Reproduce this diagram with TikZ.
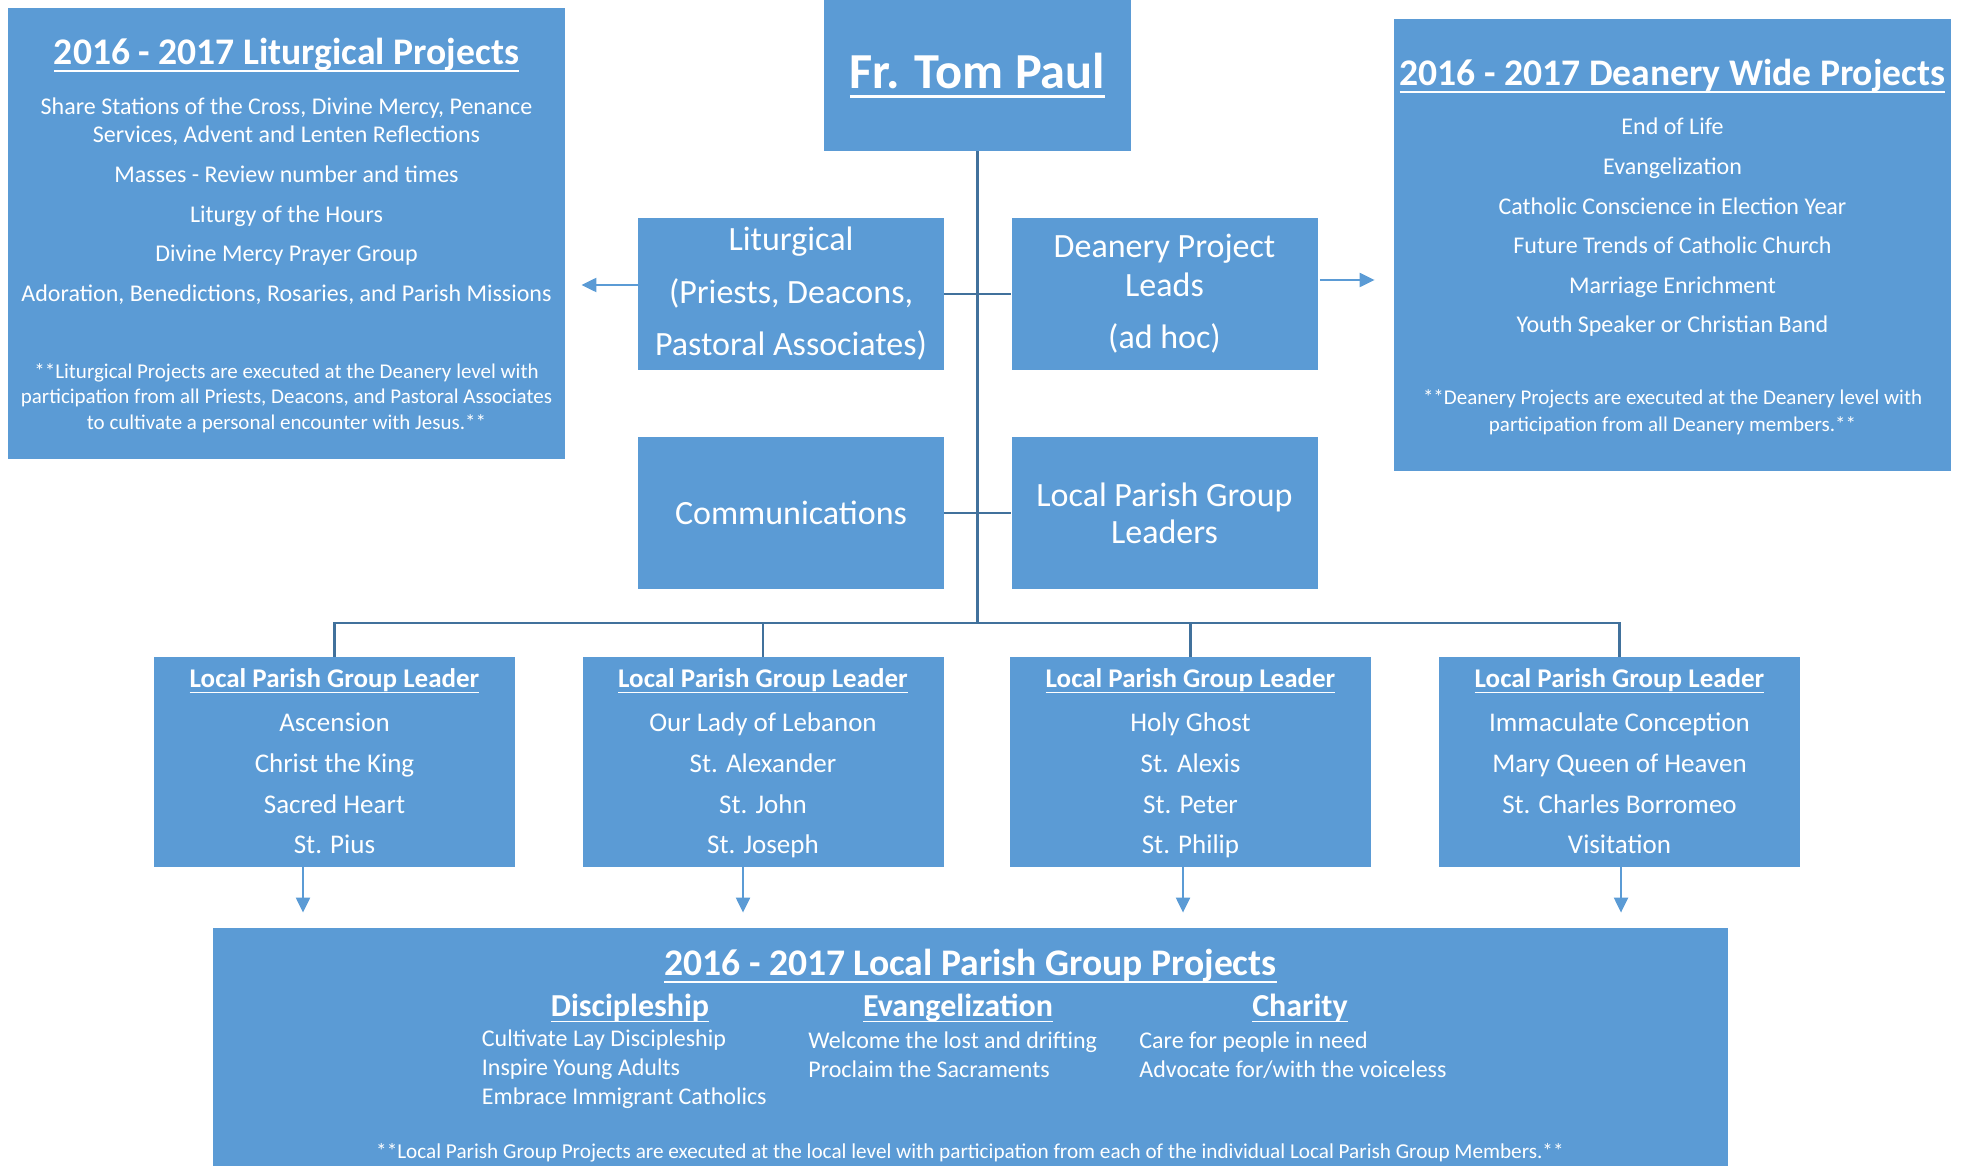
\documentclass[tikz,border=0pt]{standalone}
\usepackage{fontspec}
\setmainfont{Carlito}
\usepackage{tikz}
\usetikzlibrary{arrows.meta}

\definecolor{boxblue}{HTML}{5B9BD5}
\definecolor{lineblue}{HTML}{41719C}

% underlined heading text
\newsavebox\hdbox
\newcommand{\hdline}[1]{\sbox\hdbox{#1}\rlap{\rule[-0.2em]{\wd\hdbox}{0.06em}}\usebox\hdbox}

\begin{document}
\begin{tikzpicture}[
    x=0.5pt, y=-0.5pt, % one unit is one pixel of the chart, y runs down
    every node/.style={text=white, inner sep=0pt, align=center},
    panel/.style={fill=boxblue},
    bigbox/.style={panel, minimum width=278.5pt, minimum height=225.5pt},
    midbox/.style={panel, minimum width=153pt, minimum height=76pt, font=\fontsize{17}{26.25}\selectfont},
    leaderbox/.style={panel, minimum width=180.5pt, minimum height=105pt, text depth=0.6pt, font=\fontsize{13.5}{20.3}\selectfont},
    titletext/.style={font=\bfseries\fontsize{25.2}{29}\selectfont},
    headtext/.style={font=\bfseries\fontsize{18.8}{22}\selectfont},
    subtext/.style={font=\bfseries\fontsize{16}{19}\selectfont},
    itemtext/.style={font=\fontsize{12}{14.4}\selectfont},
    notetext/.style={font=\fontsize{10.5}{12.8}\selectfont},
    trunk/.style={draw=lineblue, line width=1.3pt},
    flow/.style={draw=boxblue, line width=1.1pt, -{Triangle[length=7.5pt, width=7pt]}}
]
\useasboundingbox (0,0) rectangle (1961,1166);

% Top row
\node[panel, titletext, minimum width=153.5pt, minimum height=75.5pt] (frtom) at (977.5,75.5) {\hdline{Fr. Tom Paul}};

\node[bigbox] (litproj) at (286.5,233.5) {};
\node[headtext] (litproj-head) at (286.5,55) {\hdline{2016 - 2017 Liturgical Projects}};
\node[itemtext] (litproj-items) at (286.5,201) {Share Stations of the Cross, Divine Mercy, Penance\\Services, Advent and Lenten Reflections\\[5.4pt]Masses - Review number and times\\[5.4pt]Liturgy of the Hours\\[5.4pt]Divine Mercy Prayer Group\\[5.4pt]Adoration, Benedictions, Rosaries, and Parish Missions};
\node[notetext] (litproj-note) at (286.5,398) {**Liturgical Projects are executed at the Deanery level with\\participation from all Priests, Deacons, and Pastoral Associates\\to cultivate a personal encounter with Jesus.**};

\node[bigbox, minimum height=226pt] (deanwide) at (1672.5,245) {};
\node[headtext] (deanwide-head) at (1672.5,76.5) {\hdline{2016 - 2017 Deanery Wide Projects}};
\node[itemtext] (deanwide-items) at (1672.5,227.5) {End of Life\\[5.4pt]Evangelization\\[5.4pt]Catholic Conscience in Election Year\\[5.4pt]Future Trends of Catholic Church\\[5.4pt]Marriage Enrichment\\[5.4pt]Youth Speaker or Christian Band};
\node[notetext, font=\fontsize{10.5}{13.5}\selectfont] (deanwide-note) at (1672.5,412) {**Deanery Projects are executed at the Deanery level with\\participation from all Deanery members.**};

% Middle boxes
\node[midbox] (litg) at (791,294) {Liturgical\\(Priests, Deacons,\\Pastoral Associates)};
\node[midbox, font=\fontsize{17}{19.4}\selectfont] (dean) at (1164.5,294) {Deanery Project\\Leads\\[6.6pt](ad hoc)};
\node[midbox] (comm) at (791,513) {Communications};
\node[midbox, font=\fontsize{17}{18.5}\selectfont] (lpgl) at (1164.5,513) {Local Parish Group\\Leaders};

% Local parish group leaders
\node[leaderbox] (lpg1) at (334.5,762) {\hdline{\textbf{Local Parish Group Leader}}\\[1.7pt]Ascension\\Christ the King\\Sacred Heart\\St. Pius};
\node[leaderbox] (lpg2) at (763,762) {\hdline{\textbf{Local Parish Group Leader}}\\[1.7pt]Our Lady of Lebanon\\St. Alexander\\St. John\\St. Joseph};
\node[leaderbox] (lpg3) at (1190.5,762) {\hdline{\textbf{Local Parish Group Leader}}\\[1.7pt]Holy Ghost\\St. Alexis\\St. Peter\\St. Philip};
\node[leaderbox] (lpg4) at (1619.5,762) {\hdline{\textbf{Local Parish Group Leader}}\\[1.7pt]Immaculate Conception\\Mary Queen of Heaven\\St. Charles Borromeo\\Visitation};

% Bottom box
\node[panel, minimum width=757.5pt, minimum height=119pt] (projects) at (970.5,1047) {};
\node[headtext] (projects-head) at (970.5,966) {\hdline{2016 - 2017 Local Parish Group Projects}};
\node[subtext] (disc-head) at (630,1008) {\hdline{Discipleship}};
\node[subtext] (evan-head) at (958,1008) {\hdline{Evangelization}};
\node[subtext] (char-head) at (1300,1008) {\hdline{Charity}};
\node[itemtext, align=left, anchor=west] (disc-items) at (481.5,1069.5) {Cultivate Lay Discipleship\\Inspire Young Adults\\Embrace Immigrant Catholics};
\node[itemtext, align=left, anchor=west] (evan-items) at (808,1055) {Welcome the lost and drifting\\Proclaim the Sacraments};
\node[itemtext, align=left, anchor=west] (char-items) at (1139,1055) {Care for people in need\\Advocate for/with the voiceless};
\node[notetext, font=\fontsize{10.6}{12.8}\selectfont] (projects-note) at (970,1153) {**Local Parish Group Projects are executed at the local level with participation from each of the individual Local Parish Group Members.**};

% Edges
\coordinate (hub) at (977.5,623);
\draw[trunk] (frtom.south) -- (hub);
\draw[trunk] (litg.east) -- (dean.west);
\draw[trunk] (comm.east) -- (lpgl.west);
\draw[trunk] (hub) -| (lpg1.north);
\draw[trunk] (hub) -| (lpg2.north);
\draw[trunk] (hub) -| (lpg3.north);
\draw[trunk] (hub) -| (lpg4.north);

\draw[flow, shorten >=8pt] ([yshift=4.5pt]litg.west) -- ([yshift=4.5pt]litg.west -| litproj.east);
\draw[flow, shorten <=1pt, shorten >=9.5pt] ([yshift=7pt]dean.east) -- ([yshift=7pt]dean.east -| deanwide.west);
\draw[flow, shorten >=7.5pt] ([xshift=-15.75pt]lpg1.south) -- ([xshift=-15.75pt]lpg1.south |- projects.north);
\draw[flow, shorten >=7.5pt] ([xshift=-10pt]lpg2.south) -- ([xshift=-10pt]lpg2.south |- projects.north);
\draw[flow, shorten >=7.5pt] ([xshift=-3.75pt]lpg3.south) -- ([xshift=-3.75pt]lpg3.south |- projects.north);
\draw[flow, shorten >=7.5pt] ([xshift=0.75pt]lpg4.south) -- ([xshift=0.75pt]lpg4.south |- projects.north);

\end{tikzpicture}
\end{document}
